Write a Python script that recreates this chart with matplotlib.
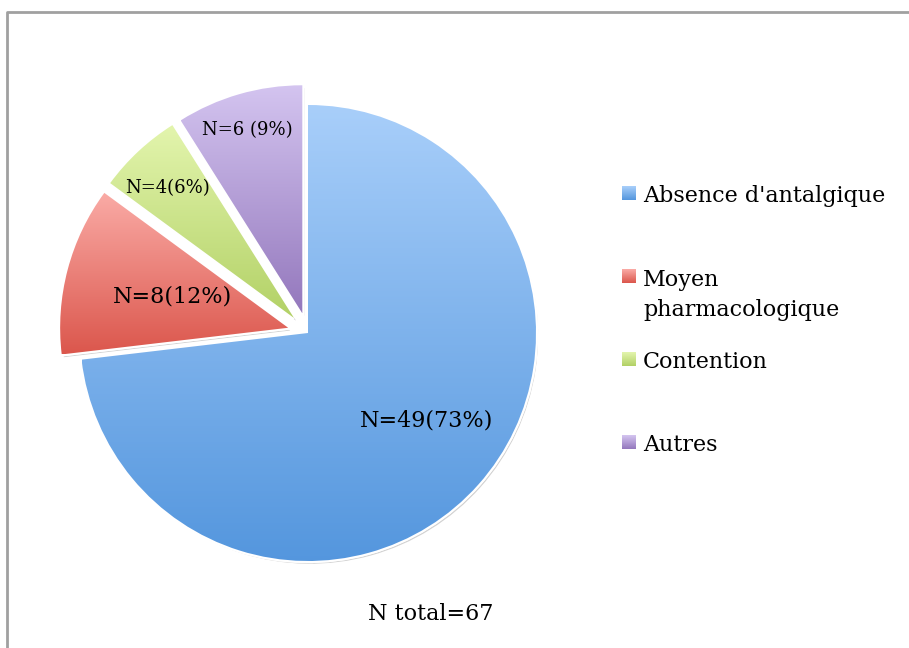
import numpy as np
import matplotlib
matplotlib.use("Agg")
import matplotlib.pyplot as plt
import matplotlib.patheffects as pe

categories = ["Absence d'antalgique", "Moyen\npharmacologique", "Contention", "Autres"]
counts = [49, 8, 4, 6]
slice_labels = ["N=49(73%)", "N=8(12%)", "N=4(6%)", "N=6 (9%)"]
total_label = "N total=67"
explode = [0, 0.09, 0.09, 0.09]
light = [(0.66, 0.81, 0.98), (0.98, 0.67, 0.65), (0.89, 0.96, 0.68), (0.83, 0.77, 0.94)]
dark = [(0.33, 0.59, 0.87), (0.86, 0.34, 0.30), (0.70, 0.82, 0.40), (0.58, 0.47, 0.74)]

W, H = 909, 648
fig = plt.figure(figsize=(W / 100, H / 100), dpi=100)
ax = fig.add_axes([0, 0, 1, 1])

FONT = ["DejaVu Serif"]

cx, cy, R = 308, H - 333, 228
wedges, _ = ax.pie(counts, startangle=90, counterclock=False, center=(cx, cy), radius=R,
                   explode=[e * R for e in explode], frame=True,
                   wedgeprops=dict(edgecolor="white", linewidth=3))
ax.set_xlim(0, W)
ax.set_ylim(0, H)
ax.set_aspect("equal")
ax.axis("off")

# frame
ax.plot([6.5, 6.5, W + 5], [-5, H - 11.5, H - 11.5], color="#a0a0a0", lw=2, solid_capstyle="butt")

for w, lo, hi in zip(wedges, light, dark):
    w.set_facecolor(hi)
    w.set_path_effects([pe.withSimplePatchShadow(offset=(1.5, -2), shadow_rgbFace="gray", alpha=0.35),
                        pe.Normal()])
    grad = np.linspace(0, 1, 256)[:, None]
    img = np.zeros((256, 1, 3))
    for k in range(3):
        img[:, 0, k] = lo[k] + (hi[k] - lo[k]) * grad[:, 0]
    bb = w.get_path().get_extents(w.get_patch_transform())
    im = ax.imshow(img, extent=(bb.x0, bb.x1, bb.y0, bb.y1), origin="upper", aspect="auto",
                   zorder=w.get_zorder() + 0.1)
    im.set_clip_path(w)

label_pos = [(427, 420), (172, 296), (168, 188), (247, 130)]
label_size = [16, 16, 13, 13]
for txt, (x, y), s in zip(slice_labels, label_pos, label_size):
    ax.text(x, H - y, txt, ha="center", va="center", fontsize=s, family=FONT, zorder=10)

# legend
sq_top = [186, 269, 352, 435]
text_y = [196, 295, 362, 445]
for cat, t, ty, lo, hi in zip(categories, sq_top, text_y, light, dark):
    grad = np.linspace(0, 1, 32)[:, None]
    img = np.zeros((32, 1, 3))
    for k in range(3):
        img[:, 0, k] = lo[k] + (hi[k] - lo[k]) * grad[:, 0]
    ax.imshow(img, extent=(622, 636, H - t - 14, H - t), origin="upper", aspect="auto", zorder=5)
    ax.text(643, H - ty, cat, ha="left", va="center", fontsize=16, family=FONT,
            linespacing=1.5, zorder=10)

ax.text(431, H - 614, total_label, ha="center", va="center", fontsize=16, family=FONT)
ax.set_xlim(0, W)
ax.set_ylim(0, H)

fig.savefig("out.png", dpi=100)
